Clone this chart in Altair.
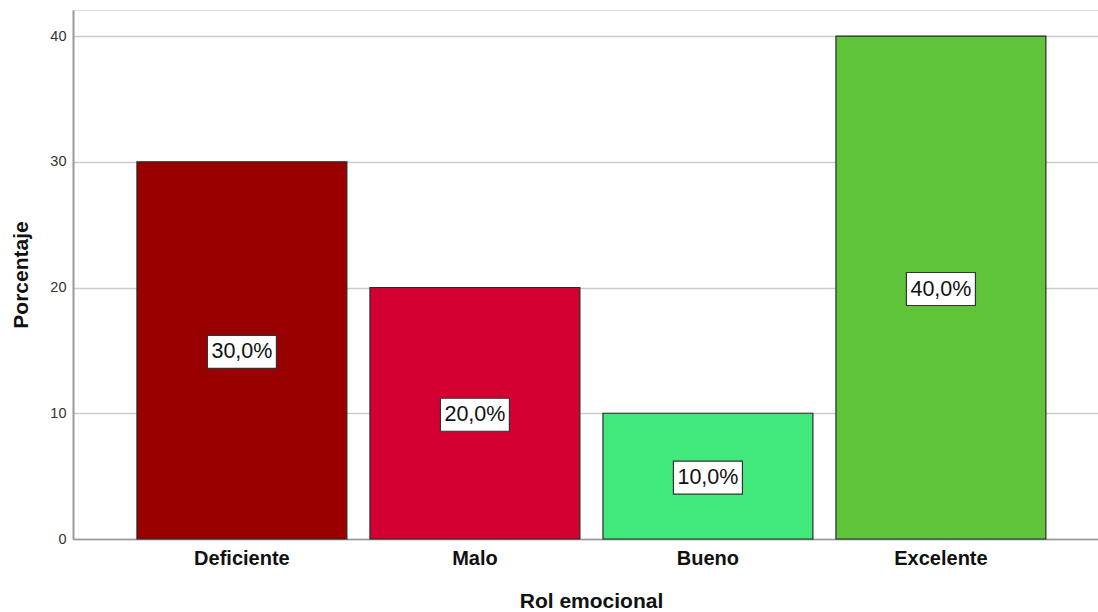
import altair as alt
import pandas as pd

categories = ["Deficiente", "Malo", "Bueno", "Excelente"]
values = [30.0, 20.0, 10.0, 40.0]
labels = ["30,0%", "20,0%", "10,0%", "40,0%"]
colors = ["#990000", "#d50032", "#41e87c", "#60c43a"]

df = pd.DataFrame({
    "cat": categories,
    "val": values,
    "mid": [v / 2 for v in values],
    "lab": labels,
    "col": colors,
})

FONT = "Liberation Sans"

x = alt.X(
    "cat:N",
    sort=categories,
    title="Rol emocional",
    scale=alt.Scale(paddingInner=0.099, paddingOuter=0.249, align=0.551),
    axis=alt.Axis(
        labelAngle=0, labelFont=FONT, labelFontSize=20, labelFontWeight="bold",
        labelColor="#111", labelPadding=9, ticks=False, domain=True,
        domainColor="#999", domainWidth=1.5,
        titleFont=FONT, titleFontSize=21, titleFontWeight="bold", titleColor="#111",
        titleY=62, titleX=518, titleBaseline="middle",
    ),
)

y_axis = alt.Axis(
    values=[0, 10, 20, 30, 40], labelFont=FONT, labelFontSize=14.5,
    labelColor="#333", labelPadding=7, ticks=False, domain=True,
    domainColor="#999", domainWidth=2, grid=True, gridColor="#cccccc",
    gridWidth=1.5, titleFont=FONT, titleFontSize=21, titleFontWeight="bold",
    titleColor="#111", titleX=-52, titleBaseline="middle", titleAngle=270,
)
yscale = alt.Scale(domain=[0, 42.07], nice=False)

bars = alt.Chart(df).mark_bar(stroke="#2a2a2a", strokeWidth=1.2).encode(
    x=x,
    y=alt.Y("val:Q", title="Porcentaje", scale=yscale, axis=y_axis),
    color=alt.Color("col:N", scale=None),
)

boxes = alt.Chart(df).mark_point(
    shape="M-1,-0.478 L1,-0.478 L1,0.478 L-1,0.478 Z",
    filled=True, fill="white", stroke="#333333", strokeWidth=1.2,
    size=4761, opacity=1, fillOpacity=1, yOffset=1.5,
).encode(
    x=alt.X("cat:N", sort=categories),
    y=alt.Y("mid:Q", scale=yscale),
)

texts = alt.Chart(df).mark_text(
    font=FONT, fontSize=21.5, color="#111", baseline="middle", align="center",
    yOffset=2,
).encode(
    x=alt.X("cat:N", sort=categories),
    y=alt.Y("mid:Q", scale=yscale),
    text="lab:N",
)

chart = alt.layer(bars, boxes, texts).properties(
    width=1025, height=529,
    autosize=alt.AutoSizeParams(type="none"),
    padding={"left": 73, "top": 10, "right": 0, "bottom": 73},
).configure_view(stroke=None).configure(background="white")

chart.save("out.html", embed_options={"renderer": "svg", "actions": False})
